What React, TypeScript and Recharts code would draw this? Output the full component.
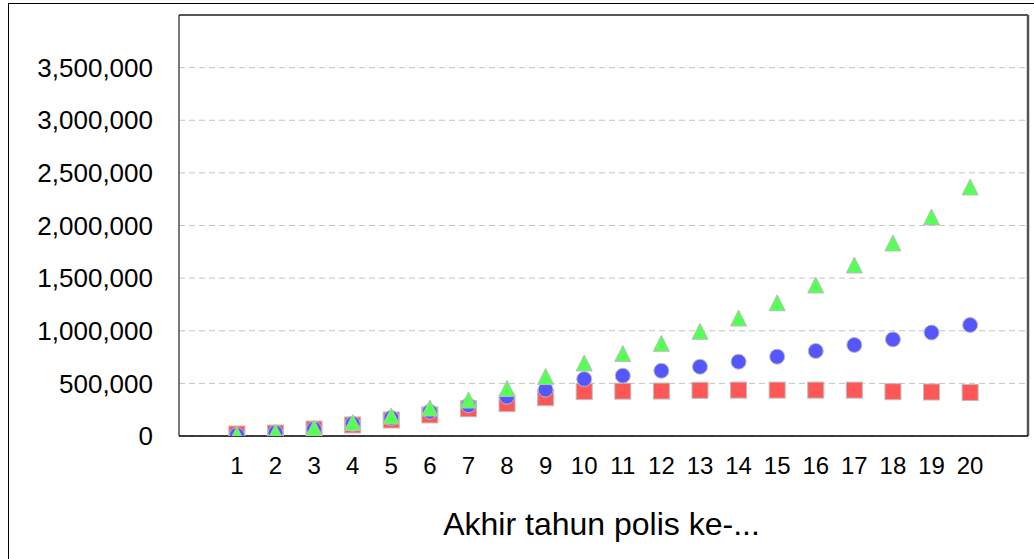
import React from "react";
import {
  ScatterChart,
  Scatter,
  XAxis,
  YAxis,
  CartesianGrid,
  ReferenceLine,
} from "recharts";

const years = [1, 2, 3, 4, 5, 6, 7, 8, 9, 10, 11, 12, 13, 14, 15, 16, 17, 18, 19, 20];
const redValues = [19000, 28000, 66000, 105000, 152000, 200000, 259000, 308000, 364000, 422000, 426000, 427000, 434000, 436000, 436000, 436000, 436000, 421000, 418000, 413000];
const blueValues = [10000, 30000, 66000, 116000, 171000, 231000, 292000, 373000, 440000, 541000, 573000, 620000, 658000, 706000, 754000, 808000, 865000, 918000, 983000, 1055000];
const greenValues = [12000, 35000, 76000, 128000, 190000, 266000, 342000, 452000, 565000, 694000, 784000, 881000, 995000, 1121000, 1266000, 1435000, 1625000, 1834000, 2081000, 2366000];
const yTicks = [0, 500000, 1000000, 1500000, 2000000, 2500000, 3000000, 3500000];
const xLabel = "Akhir tahun polis ke-...";

const redData = years.map((x, i) => ({ x, y: redValues[i] }));
const blueData = years.map((x, i) => ({ x, y: blueValues[i] }));
const greenData = years.map((x, i) => ({ x, y: greenValues[i] }));

const FONT = "'Liberation Sans', Arial, Helvetica, sans-serif";
const MARK_STROKE = "#bdbdbd";

const SquareShape = (props: any) => {
  const { cx, cy } = props;
  if (cx == null || cy == null) return null;
  return <rect x={cx - 8} y={cy - 8} width={16} height={16} fill="#ff5656" stroke={MARK_STROKE} strokeWidth={1} />;
};
const CircleShape = (props: any) => {
  const { cx, cy } = props;
  if (cx == null || cy == null) return null;
  return <circle cx={cx} cy={cy} r={7.5} fill="#5656ff" stroke={MARK_STROKE} strokeWidth={1} />;
};
const TriangleShape = (props: any) => {
  const { cx, cy } = props;
  if (cx == null || cy == null) return null;
  const pts = `${cx},${cy - 8} ${cx + 8},${cy + 8} ${cx - 8},${cy + 8}`;
  return <polygon points={pts} fill="#56ff56" stroke={MARK_STROKE} strokeWidth={1} />;
};

const fmt = (v: number) => v.toLocaleString("en-US");

const XLabel = (props: any) => {
  const vb = props.viewBox || {};
  return (
    <text
      x={vb.x + vb.width / 2 - 2}
      y={vb.y + 99}
      textAnchor="middle"
      fontSize={32}
      fontFamily={FONT}
      fill="#000"
    >
      {xLabel}
    </text>
  );
};

export default function App() {
  return (
    <div
      style={{
        position: "absolute",
        left: 0,
        top: 0,
        width: 1034,
        height: 559,
        overflow: "hidden",
        background: "#fff",
        fontFamily: FONT,
      }}
    >
      <div
        style={{
          position: "absolute",
          left: 8,
          top: 3,
          width: 1100,
          height: 700,
          borderLeft: "1px solid #000",
          borderTop: "1px solid #000",
        }}
      />
      <div style={{ position: "absolute", left: 0, top: 0 }}>
        <ScatterChart
          width={1034}
          height={559}
          margin={{ top: 15, right: 6, left: 0, bottom: 0 }}
        >
          <CartesianGrid
            horizontal={true}
            vertical={false}
            stroke="#c4c4c4"
            strokeDasharray="6 4"
          />
          <XAxis
            type="number"
            dataKey="x"
            domain={[-0.5, 21.5]}
            ticks={years}
            interval={0}
            height={123}
            tickLine={false}
            tickSize={0}
            tickMargin={21}
            axisLine={{ stroke: "#000", strokeWidth: 1.5 }}
            tick={{ fill: "#000", fontSize: 24, fontFamily: FONT }}
            allowDataOverflow
            label={<XLabel />}
          />
          <YAxis
            type="number"
            dataKey="y"
            domain={[0, 4000000]}
            ticks={yTicks}
            interval={0}
            width={179}
            tickLine={false}
            tickSize={0}
            tickMargin={26}
            tickFormatter={fmt}
            axisLine={{ stroke: "#222", strokeWidth: 1.2 }}
            tick={{ fill: "#000", fontSize: 26, fontFamily: FONT }}
            allowDataOverflow
          />
          <ReferenceLine y={4000000} stroke="#555" strokeWidth={2} />
          <ReferenceLine x={21.5} stroke="#555" strokeWidth={2.5} />
          <Scatter data={redData} shape={SquareShape} isAnimationActive={false} />
          <Scatter data={blueData} shape={CircleShape} isAnimationActive={false} />
          <Scatter data={greenData} shape={TriangleShape} isAnimationActive={false} />
        </ScatterChart>
      </div>
    </div>
  );
}
